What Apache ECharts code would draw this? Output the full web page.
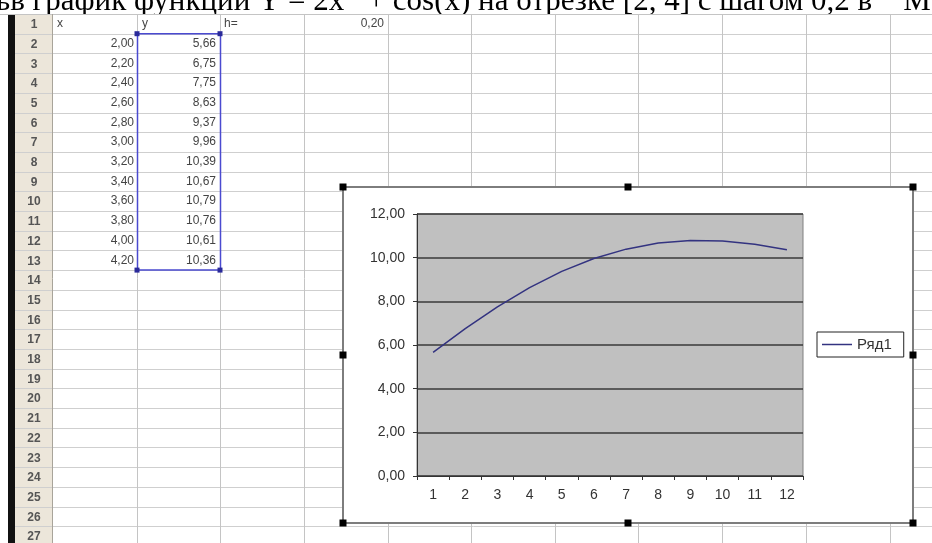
<!DOCTYPE html>
<html><head><meta charset="utf-8">
<script src="https://cdn.jsdelivr.net/npm/echarts@6/dist/echarts.min.js"></script>
<style>html,body{margin:0;padding:0;background:#fff;overflow:hidden}#c{width:932px;height:543px}</style>
</head><body><div id="c"></div>
<script>
// ---- data ----
const categories = ['1','2','3','4','5','6','7','8','9','10','11','12'];
const xValues = [2.00, 2.20, 2.40, 2.60, 2.80, 3.00, 3.20, 3.40, 3.60, 3.80, 4.00, 4.20];
const yValues = [5.66, 6.75, 7.75, 8.63, 9.37, 9.96, 10.39, 10.67, 10.79, 10.76, 10.61, 10.36];
const stepH = 0.20;
const seriesName = 'Ряд1';
const headerLabels = ['x', 'y', 'h='];
const titleText = 'ьв график функции Y = 2x   + cos(x) на отрезке [2, 4] с шагом 0,2 в    М';
const yMin = 0, yMax = 12, yStep = 2;

const fmt = v => v.toFixed(2).replace('.', ',');

// ---- sheet layout ----
const W = 932, H = 543;
const sheetTop = 14, rowH = 19.7, nRows = 27;
const colX = [52, 137, 220, 304, 388, 471, 555, 638, 722, 806, 890];
const rowY = i => sheetTop + i * rowH; // top of row i+1
const cellFont = '12px Arial';
const cellColor = '#444';

const els = [];
// title (top cut off, bottom hidden under the sheet)
els.push({type:'text', z:0, x:-4, y:2, style:{text:titleText, font:'31px "Liberation Serif"', fill:'#000', align:'left', verticalAlign:'middle'}});
// sheet background
els.push({type:'rect', z:1, shape:{x:0, y:sheetTop + 1, width:W, height:H-sheetTop}, style:{fill:'#fff'}});
els.push({type:'line', z:2, shape:{x1:0, y1:sheetTop + 0.5, x2:W, y2:sheetTop + 0.5}, style:{stroke:'#c4c4c4', lineWidth:1}});
// row header
els.push({type:'rect', z:1, shape:{x:8, y:sheetTop, width:7, height:H-sheetTop}, style:{fill:'#111'}});
els.push({type:'rect', z:1, shape:{x:15, y:sheetTop, width:colX[0]-15, height:H-sheetTop}, style:{fill:'#ece6da'}});
// grid lines
for (let i = 1; i <= nRows; i++) {
  const y = Math.round(rowY(i)) + 0.5;
  els.push({type:'line', z:2, shape:{x1:15, y1:y, x2:W, y2:y}, style:{stroke:'#cfcfcf', lineWidth:1}});
}
colX.forEach((x, k) => {
  els.push({type:'line', z:2, shape:{x1:x + 0.5, y1:sheetTop, x2:x + 0.5, y2:H}, style:{stroke: k === 0 ? '#a8a49a' : '#c4c4c4', lineWidth:1}});
});
// row numbers
for (let i = 0; i < nRows; i++) {
  els.push({type:'text', z:3, x:34, y:rowY(i) + rowH/2 + 1, style:{text:String(i + 1), font:'bold 12px Arial', fill:'#555', align:'center', verticalAlign:'middle'}});
}
// header row
els.push({type:'text', z:3, x:colX[0] + 5, y:rowY(0) + rowH/2, style:{text:headerLabels[0], font:cellFont, fill:cellColor, verticalAlign:'middle'}});
els.push({type:'text', z:3, x:colX[1] + 5, y:rowY(0) + rowH/2, style:{text:headerLabels[1], font:cellFont, fill:cellColor, verticalAlign:'middle'}});
els.push({type:'text', z:3, x:colX[2] + 4, y:rowY(0) + rowH/2, style:{text:headerLabels[2], font:cellFont, fill:cellColor, verticalAlign:'middle'}});
els.push({type:'text', z:3, x:colX[4] - 4, y:rowY(0) + rowH/2, style:{text:fmt(stepH), font:cellFont, fill:cellColor, align:'right', verticalAlign:'middle'}});
// values
xValues.forEach((v, i) => {
  const cy = rowY(i + 1) + rowH/2;
  els.push({type:'text', z:3, x:colX[1] - 3, y:cy, style:{text:fmt(v), font:cellFont, fill:cellColor, align:'right', verticalAlign:'middle'}});
  els.push({type:'text', z:3, x:colX[2] - 4, y:cy, style:{text:fmt(yValues[i]), font:cellFont, fill:cellColor, align:'right', verticalAlign:'middle'}});
});
// selection rectangle
const selTop = rowY(1), selBot = rowY(1 + yValues.length);
els.push({type:'rect', z:4, shape:{x:colX[1] + 0.5, y:selTop, width:colX[2] - colX[1], height:selBot - selTop}, style:{fill:'none', stroke:'#4a4ad0', lineWidth:1.5}});
[[colX[1], selTop], [colX[2], selTop], [colX[1], selBot], [colX[2], selBot]].forEach(p => {
  els.push({type:'rect', z:5, shape:{x:p[0] - 2.5, y:p[1] - 2.5, width:5, height:5}, style:{fill:'#2a2a9a'}});
});
// chart object box
const bx = 343, by = 187, bw = 570, bh = 336;
els.push({type:'rect', z:6, shape:{x:bx, y:by, width:bw, height:bh}, style:{fill:'#fff', stroke:'#7d7d7d', lineWidth:2}});
[bx, bx + bw/2, bx + bw].forEach(hx => [by, by + bh/2, by + bh].forEach(hy => {
  if (hx === bx + bw/2 && hy === by + bh/2) return;
  els.push({type:'rect', z:7, shape:{x:hx - 3.5, y:hy - 3.5, width:7, height:7}, style:{fill:'#000'}});
}));

const chart = echarts.init(document.getElementById('c'), null, {renderer:'canvas'});
chart.setOption({
  animation: false,
  backgroundColor: '#fff',
  graphic: {elements: els},
  grid: {left:417, top:214, width:386, height:262, show:true, backgroundColor:'#c0c0c0', borderColor:'#808080', borderWidth:1, z:10},
  xAxis: {
    type:'category', data:categories, boundaryGap:true, z:11,
    axisLine:{show:true, lineStyle:{color:'#333', width:1}},
    axisTick:{show:true, length:4, alignWithLabel:false, lineStyle:{color:'#333'}},
    axisLabel:{color:'#333', fontSize:14, fontFamily:'Arial', margin:12},
    splitLine:{show:false}
  },
  yAxis: {
    type:'value', min:yMin, max:yMax, interval:yStep, z:11,
    axisLine:{show:true, lineStyle:{color:'#333', width:1}},
    axisTick:{show:true, length:4, lineStyle:{color:'#333'}},
    axisLabel:{color:'#333', fontSize:14, fontFamily:'Arial', margin:12, formatter: v => fmt(v)},
    splitLine:{show:true, lineStyle:{color:'#3a3a3a', width:1.5}}
  },
  legend: {
    show:true, left:817, top:332, z:12, orient:'horizontal',
    data:[{name:seriesName, icon:'rect'}],
    itemWidth:30, itemHeight:1.5, itemGap:4,
    padding:[5,12,5,5], borderColor:'#222', borderWidth:1, backgroundColor:'#fff',
    textStyle:{color:'#333', fontSize:15, fontFamily:'Arial', padding:[0,0,0,0]}
  },
  series: [{
    name:seriesName, type:'line', data:yValues, z:12,
    showSymbol:false, symbol:'none', smooth:false,
    lineStyle:{color:'#333380', width:1.5}, itemStyle:{color:'#333380'}
  }]
});
</script></body></html>
